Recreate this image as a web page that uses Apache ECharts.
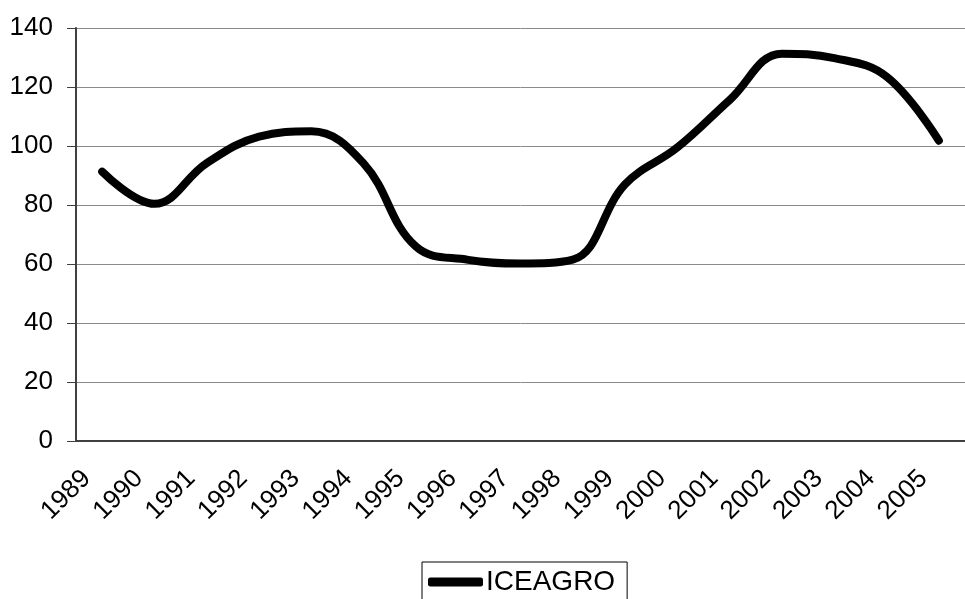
<!DOCTYPE html>
<html>
<head>
<meta charset="utf-8">
<script src="https://cdn.jsdelivr.net/npm/echarts@6/dist/echarts.min.js"></script>
<style>
html, body { margin: 0; padding: 0; background: #fff; }
#chart_1 { width: 965px; height: 599px; }
</style>
</head>
<body>
<div id="chart_1"></div>
<script>
// years on the category axis
var years = ['1989', '1990', '1991', '1992', '1993', '1994', '1995', '1996', '1997',
	'1998', '1999', '2000', '2001', '2002', '2003', '2004', '2005'];
// ICEAGRO index
var iceagro = [91.3, 80.4, 94.2, 103.2, 105, 94.1, 65.9, 61.4, 60.2,
	61.5, 87, 99.5, 115.6, 131.3, 129.8, 123.5, 101.8];
var yTicks = { min: 0, max: 140, step: 20 };

var font = '"Liberation Sans", Arial, sans-serif';
var myChart = echarts.init(document.getElementById('chart_1'));
var option = {
	backgroundColor: '#fff',
	animation: false,
	grid: {
		left: 76,
		top: 28,
		bottom: 158,
		right: -9
	},
	legend: {
		left: 422,
		top: 562,
		padding: [6, 12, 20, 6],
		borderColor: '#000',
		borderWidth: 1,
		itemWidth: 55,
		itemHeight: 9,
		itemGap: 3,
		icon: 'roundRect',
		textStyle: {
			fontFamily: font,
			fontSize: 28,
			color: '#000',
			padding: [0, 0, 0, -2]
		},
		data: ['ICEAGRO']
	},
	xAxis: {
		type: 'category',
		data: years,
		axisLine: { lineStyle: { color: '#404040', width: 2 } },
		axisTick: { length: 8, lineStyle: { color: '#404040', width: 1 } },
		axisLabel: {
			rotate: 45,
			margin: 18,
			color: '#000',
			fontFamily: font,
			fontSize: 26,
			padding: [0, 22, 0, 0],
			interval: 0
		}
	},
	yAxis: {
		type: 'value',
		min: yTicks.min,
		max: yTicks.max,
		interval: yTicks.step,
		axisLine: { show: true, lineStyle: { color: '#404040', width: 2 } },
		axisTick: { show: true, length: 9, lineStyle: { color: '#404040', width: 1 } },
		splitLine: { lineStyle: { color: '#8a8a8a', width: 1 } },
		axisLabel: {
			margin: 23,
			color: '#000',
			fontFamily: font,
			fontSize: 26
		}
	},
	series: [{
		name: 'ICEAGRO',
		type: 'line',
		data: iceagro,
		smooth: 0.4,
		symbol: 'none',
		itemStyle: { color: '#000' },
		lineStyle: { color: '#000', width: 8, cap: 'round', join: 'round' }
	}]
};
myChart.setOption(option);
window.addEventListener('resize', function () {
	myChart.resize();
});
</script>
</body>
</html>
